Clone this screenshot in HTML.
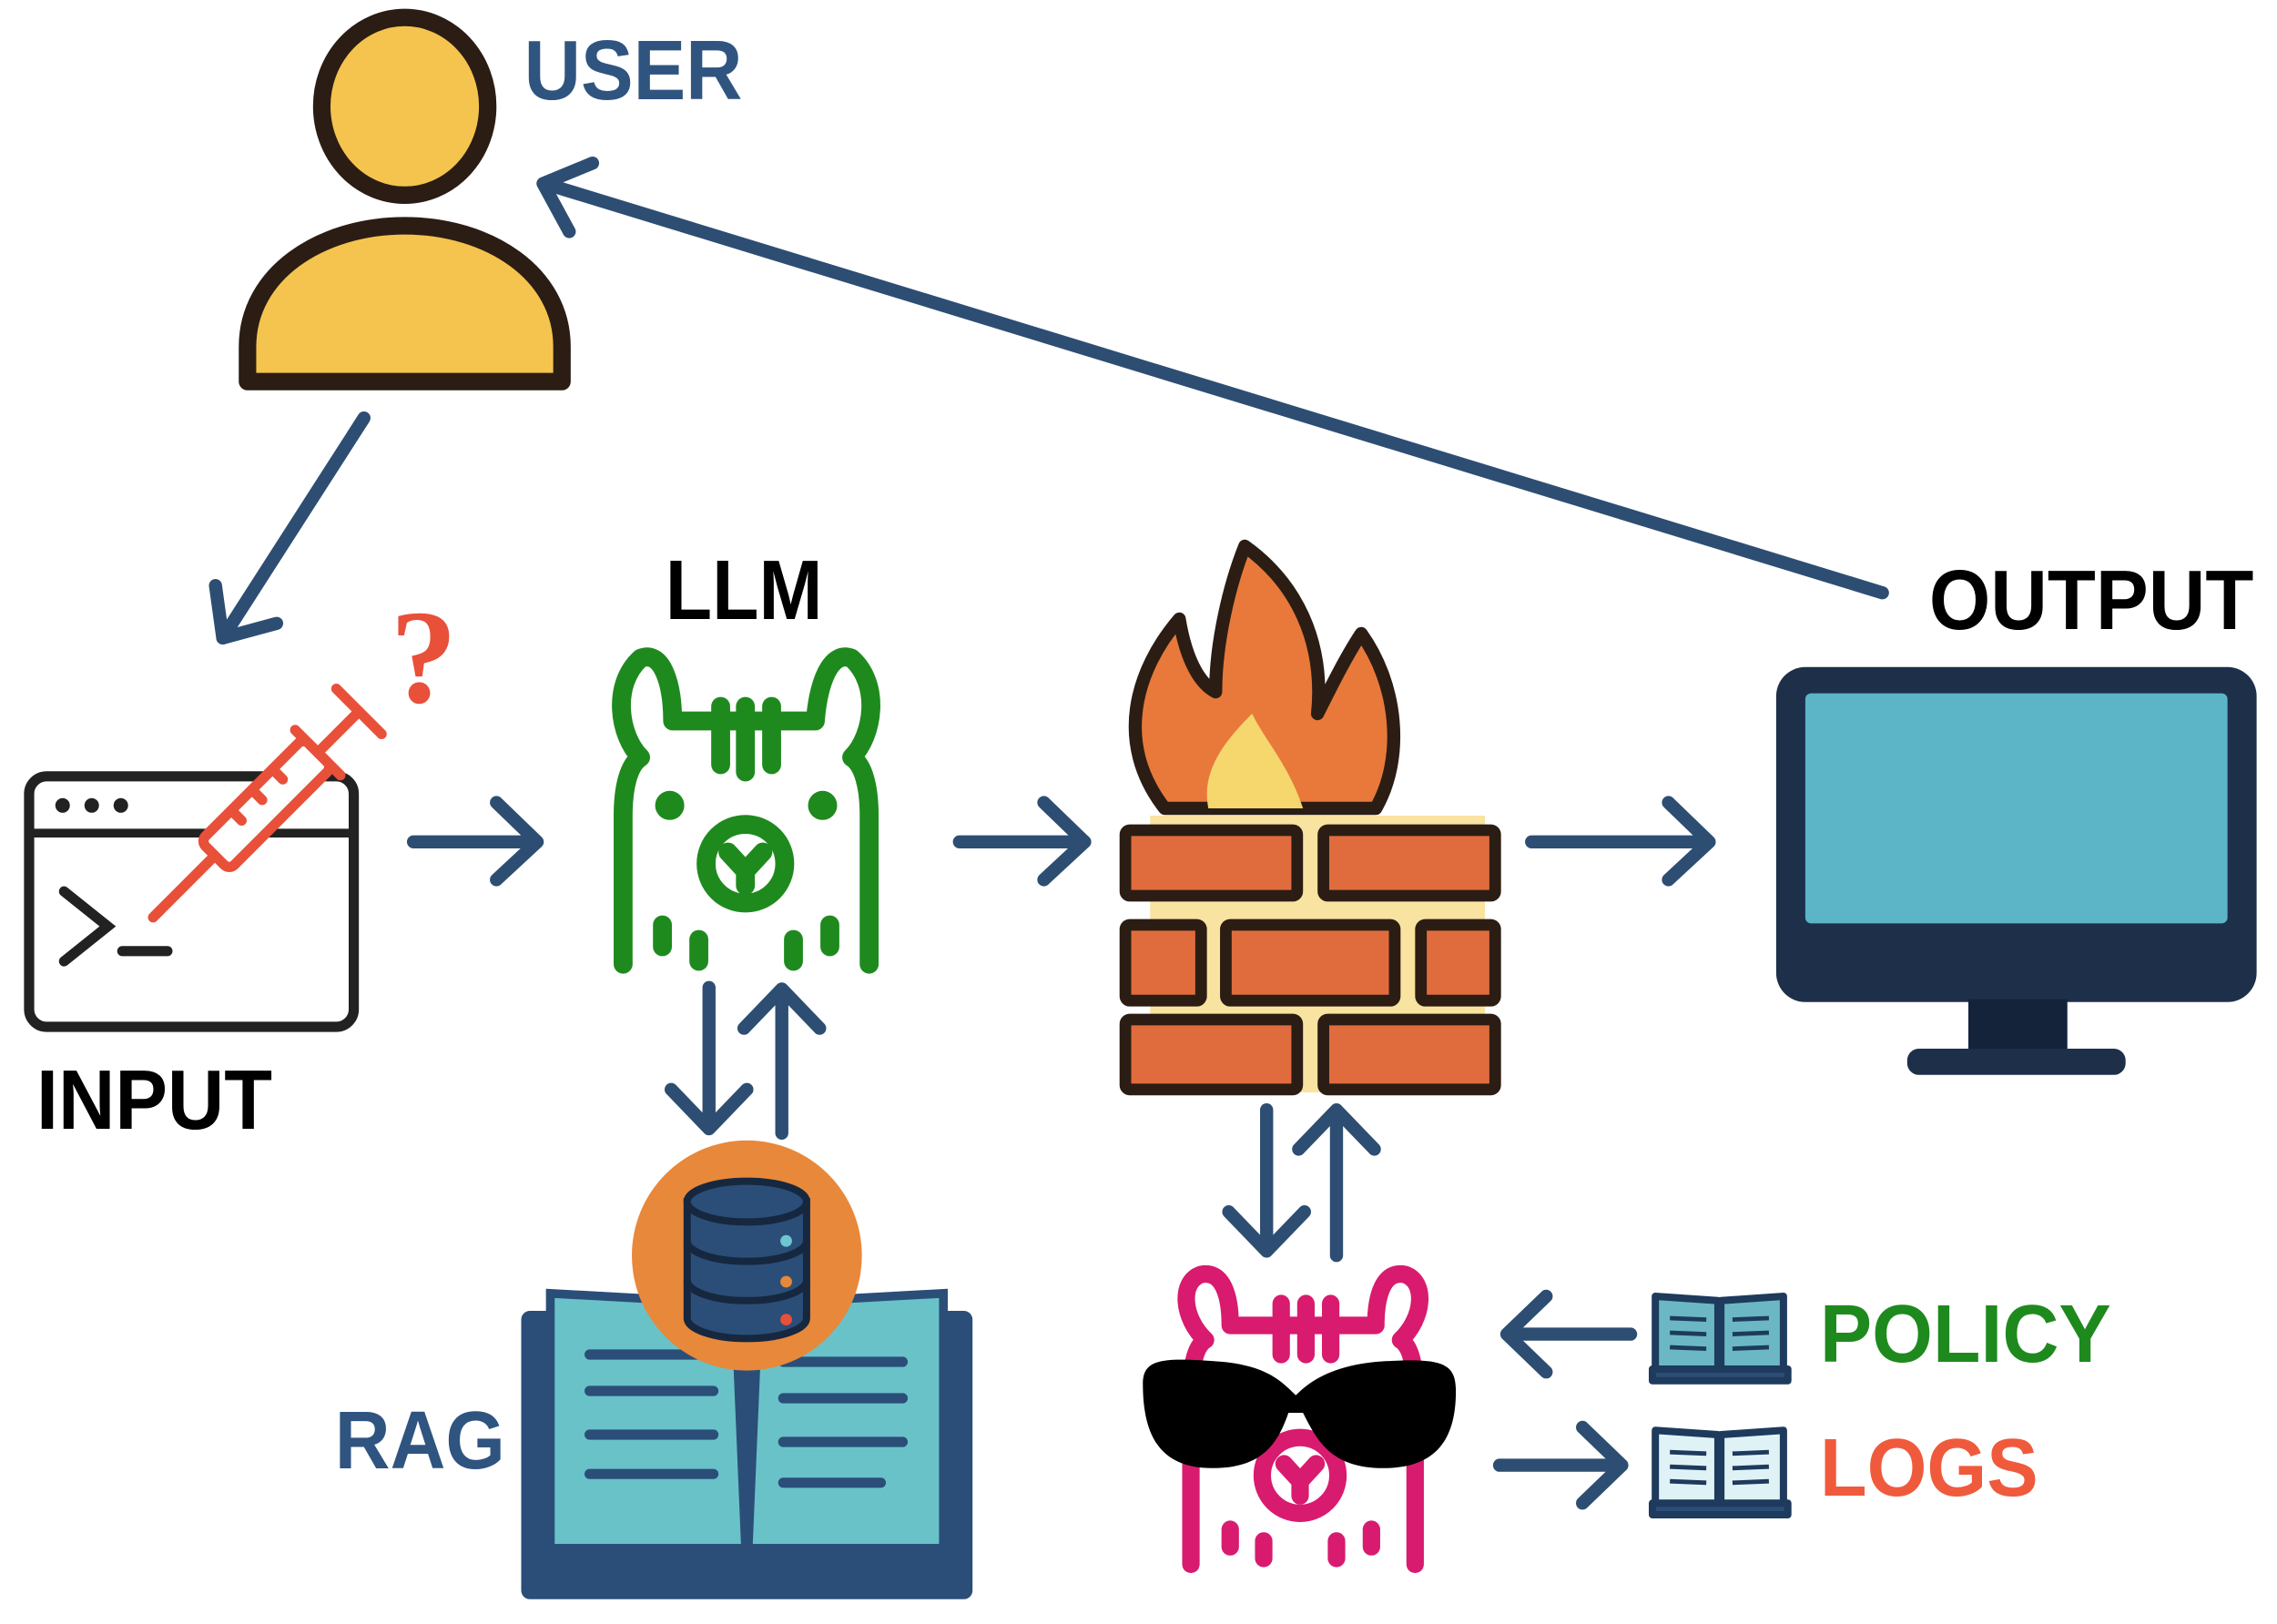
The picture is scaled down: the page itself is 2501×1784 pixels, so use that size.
<!DOCTYPE html>
<html><head><meta charset="utf-8"><style>html,body{margin:0;padding:0;background:#fff}svg{display:block}text{font-family:"Liberation Sans Narrow","Liberation Sans",sans-serif;font-weight:bold}</style></head><body>
<svg width="2501" height="1784" viewBox="0 0 1564 1115" preserveAspectRatio="none" xmlns="http://www.w3.org/2000/svg">
<rect width="1564" height="1115" fill="#fff"/>
<g stroke="#2d4e72" stroke-width="9" fill="none" stroke-linecap="round" stroke-linejoin="round">
 <line x1="1293" y1="407" x2="374" y2="126"/><polyline points="407,112 373,126 391,159"/>
 <line x1="250" y1="287" x2="153" y2="438"/><polyline points="148,402 153,438 190,428"/>
 <line x1="284" y1="578" x2="368" y2="578"/><polyline points="341,551 369,578 341,604"/>
 <line x1="659" y1="578" x2="745" y2="578"/><polyline points="717,551 745,578 717,604"/>
 <line x1="1052" y1="578" x2="1173" y2="578"/><polyline points="1146,551 1174,578 1146,604"/>
 <line x1="487" y1="678" x2="487" y2="774"/><polyline points="461,748 487,775 513,748"/>
 <line x1="537" y1="778" x2="537" y2="680"/><polyline points="511,706 537,679 563,706"/>
 <line x1="870" y1="762" x2="870" y2="858"/><polyline points="844,832 870,859 896,832"/>
 <line x1="918" y1="862" x2="918" y2="763"/><polyline points="892,789 918,762 944,789"/>
 <line x1="1120" y1="916" x2="1036" y2="916"/><polyline points="1062,890 1035,916 1062,942"/>
 <line x1="1030" y1="1006" x2="1113" y2="1006"/><polyline points="1087,980 1114,1006 1087,1032"/>
</g>
<ellipse cx="278" cy="73" rx="57" ry="61" fill="#f4c44e" stroke="#2b1d14" stroke-width="12"/>
<path d="M170,262 L170,238 C170,188 220,155 278,155 C336,155 386,188 386,238 L386,262 Z" fill="#f4c44e" stroke="#2b1d14" stroke-width="12" stroke-linejoin="round"/>
<text x="360" y="68" font-size="58" fill="#2f5480" textLength="150" lengthAdjust="spacingAndGlyphs">USER</text>
<rect x="20" y="533" width="223" height="172" rx="12" fill="#fff" stroke="#222" stroke-width="7"/>
<line x1="20" y1="572" x2="243" y2="572" stroke="#222" stroke-width="6"/>
<circle cx="43" cy="553" r="5" fill="#222"/><circle cx="63" cy="553" r="5" fill="#222"/><circle cx="83" cy="553" r="5" fill="#222"/>
<polyline points="44,612 74,636 44,660" fill="none" stroke="#222" stroke-width="7" stroke-linecap="round"/>
<line x1="84" y1="653" x2="115" y2="653" stroke="#222" stroke-width="7" stroke-linecap="round"/>
<g transform="translate(190,545) rotate(-45)" stroke="#e8503a" stroke-width="7" fill="#fff" stroke-linecap="round">
 <line x1="-120" y1="0" x2="-60" y2="0"/>
 <rect x="-60" y="-14" width="100" height="28" rx="5"/>
 <line x1="-30" y1="-14" x2="-30" y2="-4"/><line x1="-10" y1="-14" x2="-10" y2="-4"/><line x1="10" y1="-14" x2="10" y2="-4"/>
 <line x1="40" y1="-22" x2="40" y2="22"/><line x1="40" y1="0" x2="80" y2="0"/><line x1="80" y1="-22" x2="80" y2="22"/>
</g>
<text x="268" y="482" font-size="92" fill="#e8503a" style="font-family:'Liberation Serif',serif">?</text>
<text x="25" y="775" font-size="58" fill="#000" textLength="162" lengthAdjust="spacingAndGlyphs">INPUT</text>
<g stroke="#1e8a1e" stroke-width="13" fill="none" stroke-linecap="round" stroke-linejoin="round">
 <path d="M428,662 L428,560 C428,540 432,525 440,520 C425,505 420,470 440,452 C455,446 462,470 462,495 L560,495 C562,470 570,446 585,452 C605,470 600,505 585,520 C593,525 597,540 597,560 L597,662"/>
 <line x1="495" y1="485" x2="495" y2="525"/><line x1="512" y1="485" x2="512" y2="530"/><line x1="530" y1="485" x2="530" y2="525"/>
 <circle cx="512" cy="593" r="27"/>
 <path d="M500,585 L512,598 L524,585 M512,598 L512,608"/>
 <line x1="455" y1="635" x2="455" y2="650"/><line x1="480" y1="645" x2="480" y2="660"/><line x1="545" y1="645" x2="545" y2="660"/><line x1="570" y1="635" x2="570" y2="650"/>
</g>
<circle cx="460" cy="553" r="10" fill="#1e8a1e"/><circle cx="565" cy="553" r="10" fill="#1e8a1e"/>
<text x="457" y="425" font-size="58" fill="#000" textLength="108" lengthAdjust="spacingAndGlyphs">LLM</text>
<rect x="790" y="560" width="230" height="190" fill="#f8e3a0"/>
<path d="M800,555 C765,510 780,460 810,425 C815,455 825,470 835,475 C835,440 845,400 855,375 C890,400 910,440 905,490 C915,470 925,450 935,435 C960,470 965,520 945,555 Z" fill="#e8793a" stroke="#2b1d14" stroke-width="9" stroke-linejoin="round"/>
<path d="M830,555 C825,530 840,510 860,490 C870,510 885,525 895,555 Z" fill="#f5d76e"/>
<g fill="#e06c3e" stroke="#2b1d14" stroke-width="8">
 <rect x="773" y="570" width="118" height="45" rx="3"/><rect x="909" y="570" width="118" height="45" rx="3"/>
 <rect x="773" y="635" width="52" height="52" rx="3"/><rect x="842" y="635" width="116" height="52" rx="3"/><rect x="976" y="635" width="51" height="52" rx="3"/>
 <rect x="773" y="700" width="118" height="48" rx="3"/><rect x="909" y="700" width="118" height="48" rx="3"/>
</g>
<rect x="1220" y="458" width="330" height="230" rx="20" fill="#1e2f4a"/>
<rect x="1240" y="476" width="290" height="158" rx="4" fill="#5bb5c6"/>
<rect x="1352" y="686" width="68" height="36" fill="#14233a"/>
<rect x="1310" y="720" width="150" height="18" rx="8" fill="#1e2f4a"/>
<text x="1325" y="432" font-size="58" fill="#000" textLength="223" lengthAdjust="spacingAndGlyphs">OUTPUT</text>
<rect x="358" y="900" width="310" height="198" rx="6" fill="#2b4e78"/>
<path d="M378,888 L505,895 L513,1085 L378,1075 Z" fill="#69c2c8" stroke="#2b4e78" stroke-width="6"/>
<path d="M648,888 L521,895 L513,1085 L648,1075 Z" fill="#69c2c8" stroke="#2b4e78" stroke-width="6"/>
<g stroke="#2b4e78" stroke-width="7" stroke-linecap="round">
 <line x1="405" y1="930" x2="490" y2="930"/><line x1="405" y1="955" x2="490" y2="955"/><line x1="405" y1="985" x2="490" y2="985"/><line x1="405" y1="1012" x2="490" y2="1012"/>
 <line x1="538" y1="935" x2="620" y2="935"/><line x1="538" y1="960" x2="620" y2="960"/><line x1="538" y1="990" x2="620" y2="990"/><line x1="538" y1="1018" x2="605" y2="1018"/>
</g>
<rect x="370" y="1060" width="286" height="30" fill="#2b4e78"/>
<circle cx="513" cy="862" r="79" fill="#e8883a"/>
<g fill="#2b4e78" stroke="#16283f" stroke-width="5">
 <path d="M472,825 L472,905 A41,14 0 0 0 554,905 L554,825 Z"/>
 <ellipse cx="513" cy="825" rx="41" ry="14"/>
 <path d="M472,852 A41,14 0 0 0 554,852 M472,879 A41,14 0 0 0 554,879" fill="none"/>
</g>
<circle cx="540" cy="852" r="4" fill="#6ec6d0"/><circle cx="540" cy="880" r="4" fill="#e8883a"/><circle cx="540" cy="906" r="4" fill="#e8503a"/>
<text x="230" y="1008" font-size="56" fill="#2f5480" textLength="117" lengthAdjust="spacingAndGlyphs">RAG</text>
<g stroke="#d81b6e" stroke-width="12" fill="none" stroke-linecap="round" stroke-linejoin="round">
 <path d="M818,1074 L818,960 C818,940 820,925 828,920 C812,905 810,880 825,875 C840,872 845,890 845,910 L945,910 C945,890 950,872 965,875 C980,880 978,905 962,920 C970,925 972,940 972,960 L972,1074"/>
 <line x1="880" y1="895" x2="880" y2="930"/><line x1="897" y1="895" x2="897" y2="930"/><line x1="914" y1="895" x2="914" y2="930"/>
 <circle cx="893" cy="1013" r="26"/>
 <path d="M882,1005 L893,1017 L904,1005 M893,1017 L893,1027"/>
 <line x1="845" y1="1050" x2="845" y2="1062"/><line x1="868" y1="1058" x2="868" y2="1070"/><line x1="918" y1="1058" x2="918" y2="1070"/><line x1="942" y1="1050" x2="942" y2="1062"/>
</g>
<path d="M785,950 C785,932 800,932 840,935 C870,938 880,948 890,958 C900,948 915,938 945,935 C990,932 1000,935 1000,955 C1000,990 985,1008 950,1008 C915,1008 905,990 895,970 L885,970 C878,990 868,1008 833,1008 C800,1008 785,990 785,950 Z" fill="#000"/>
<g stroke="#1e3a5c" stroke-width="5" stroke-linejoin="round">
 <path d="M1137,890 L1180,893 L1180,945 L1137,942 Z" fill="#6bb8c4"/><path d="M1225,890 L1182,893 L1182,945 L1225,942 Z" fill="#6bb8c4"/>
 <rect x="1135" y="940" width="93" height="8" fill="#2b4e78"/>
 <path d="M1137,982 L1180,985 L1180,1037 L1137,1034 Z" fill="#dff3f6"/><path d="M1225,982 L1182,985 L1182,1037 L1225,1034 Z" fill="#dff3f6"/>
 <rect x="1135" y="1032" width="93" height="8" fill="#2b4e78"/>
</g>
<g stroke="#1e3a5c" stroke-width="3">
 <line x1="1147" y1="905" x2="1172" y2="906"/><line x1="1147" y1="915" x2="1172" y2="916"/><line x1="1147" y1="925" x2="1172" y2="926"/>
 <line x1="1190" y1="906" x2="1215" y2="905"/><line x1="1190" y1="916" x2="1215" y2="915"/><line x1="1190" y1="926" x2="1215" y2="925"/>
 <line x1="1147" y1="997" x2="1172" y2="998"/><line x1="1147" y1="1007" x2="1172" y2="1008"/><line x1="1147" y1="1017" x2="1172" y2="1018"/>
 <line x1="1190" y1="998" x2="1215" y2="997"/><line x1="1190" y1="1008" x2="1215" y2="1007"/><line x1="1190" y1="1018" x2="1215" y2="1017"/>
</g>
<text x="1250" y="935" font-size="56" fill="#1e8a1e" textLength="200" lengthAdjust="spacingAndGlyphs">POLICY</text>
<text x="1250" y="1027" font-size="56" fill="#f05a3c" textLength="150" lengthAdjust="spacingAndGlyphs">LOGS</text>
</svg>
</body></html>
